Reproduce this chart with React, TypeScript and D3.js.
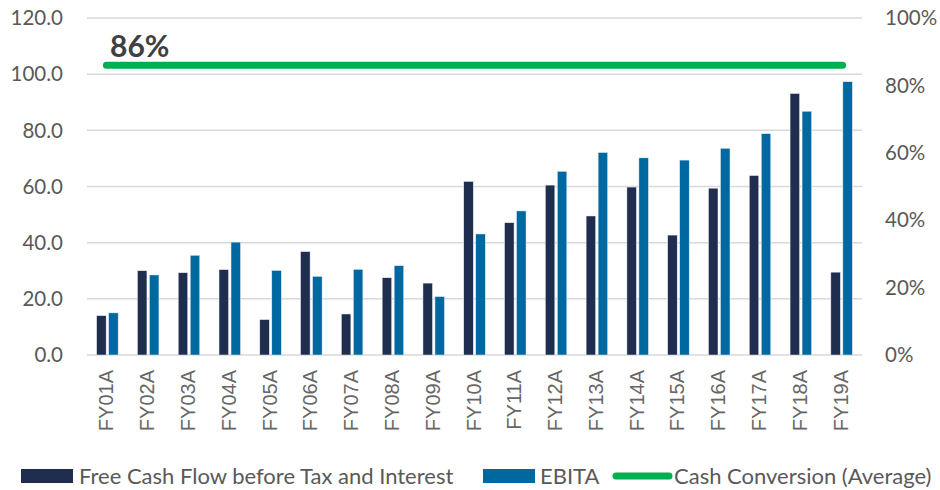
import React, { useRef, useEffect } from 'react';
import * as d3 from 'd3';

const categories = ['FY01A', 'FY02A', 'FY03A', 'FY04A', 'FY05A', 'FY06A', 'FY07A', 'FY08A', 'FY09A', 'FY10A',
  'FY11A', 'FY12A', 'FY13A', 'FY14A', 'FY15A', 'FY16A', 'FY17A', 'FY18A', 'FY19A'];
const freeCashFlow = [14.0, 30.0, 29.3, 30.4, 12.6, 36.8, 14.6, 27.5, 25.6, 61.8,
  47.1, 60.5, 49.5, 59.8, 42.7, 59.4, 63.9, 93.1, 29.5];
const ebita = [15.0, 28.5, 35.5, 40.2, 30.1, 28.0, 30.5, 31.8, 20.8, 43.1,
  51.3, 65.4, 72.1, 70.2, 69.4, 73.6, 78.8, 86.8, 97.3];
const cashConversion = 0.86;
const leftTicks = [0, 20, 40, 60, 80, 100, 120];
const rightTicks = [0, 0.2, 0.4, 0.6, 0.8, 1.0];
const seriesNames = ['Free Cash Flow before Tax and Interest', 'EBITA', 'Cash Conversion (Average)'];

const W = 940;
const H = 490;
const DARK = '#1f2d4e';
const BLUE = '#0068a0';
const GREEN = '#00b050';
const FONT = 'Lato, sans-serif';

const App: React.FC = () => {
  const svgRef = useRef<SVGSVGElement>(null);

  useEffect(() => {
    if (!svgRef.current) return;
    const svg = d3.select(svgRef.current);
    svg.selectAll('*').remove();

    const left = 87, right = 862, top = 18, bottom = 355;

    const x = d3.scaleBand<string>().domain(categories).range([left, right]);
    const y = d3.scaleLinear().domain([0, 120]).range([bottom, top]);
    const y2 = d3.scaleLinear().domain([0, 1]).range([bottom, top]);

    // grid lines
    svg.append('g')
      .selectAll('line')
      .data(leftTicks)
      .enter().append('line')
      .attr('x1', left)
      .attr('x2', right)
      .attr('y1', d => y(d))
      .attr('y2', d => y(d))
      .attr('stroke', '#d9d9d9')
      .attr('stroke-width', 1.5);

    // left axis labels
    svg.append('g')
      .selectAll('text')
      .data(leftTicks)
      .enter().append('text')
      .attr('x', 63)
      .attr('y', d => y(d))
      .attr('dy', '0.35em')
      .attr('text-anchor', 'end')
      .style('font-family', FONT)
      .style('font-size', '20.5px')
      .attr('fill', '#595959')
      .text(d => d.toFixed(1));

    // right axis labels
    svg.append('g')
      .selectAll('text')
      .data(rightTicks)
      .enter().append('text')
      .attr('x', 885)
      .attr('y', d => y2(d))
      .attr('dy', '0.35em')
      .attr('text-anchor', 'start')
      .style('font-family', FONT)
      .style('font-size', '20.5px')
      .attr('fill', '#595959')
      .text(d => d3.format('.0%')(d));

    // bars
    const bw = 9.5;
    const gap = 2.5;
    const bars = svg.append('g');
    bars.selectAll('.fcf')
      .data(freeCashFlow)
      .enter().append('rect')
      .attr('class', 'fcf')
      .attr('x', (d, i) => (x(categories[i]) as number) + x.bandwidth() / 2 - gap / 2 - bw)
      .attr('width', bw)
      .attr('y', d => y(d))
      .attr('height', d => bottom - y(d))
      .attr('fill', DARK)
      .attr('stroke', '#e8ecf2')
      .attr('stroke-width', 0.5);
    bars.selectAll('.ebita')
      .data(ebita)
      .enter().append('rect')
      .attr('class', 'ebita')
      .attr('x', (d, i) => (x(categories[i]) as number) + x.bandwidth() / 2 + gap / 2)
      .attr('width', bw)
      .attr('y', d => y(d))
      .attr('height', d => bottom - y(d))
      .attr('fill', BLUE)
      .attr('stroke', '#e8ecf2')
      .attr('stroke-width', 0.5);

    // average line
    const cx = (c: string) => (x(c) as number) + x.bandwidth() / 2;
    svg.append('line')
      .attr('x1', cx(categories[0]) - 1)
      .attr('x2', cx(categories[categories.length - 1]) + 1)
      .attr('y1', y2(cashConversion))
      .attr('y2', y2(cashConversion))
      .attr('stroke', GREEN)
      .attr('stroke-width', 7)
      .attr('stroke-linecap', 'round');

    svg.append('text')
      .attr('x', 110)
      .attr('y', 57)
      .style('font-family', FONT)
      .style('font-size', '30px')
      .style('font-weight', 'bold')
      .attr('fill', '#404040')
      .text(d3.format('.0%')(cashConversion));

    // x labels
    svg.append('g')
      .selectAll('text')
      .data(categories)
      .enter().append('text')
      .attr('transform', d => `translate(${cx(d) - 1},${370}) rotate(-90)`)
      .attr('text-anchor', 'end')
      .attr('dy', '0.35em')
      .style('font-family', 'Liberation Sans, Arial, sans-serif')
      .style('font-size', '20px')
      .attr('fill', '#666666')
      .text(d => d);

    // legend
    const lg = svg.append('g').style('font-family', FONT).style('font-size', '22px').attr('fill', '#595959');
    const ly = 476;
    lg.append('rect').attr('x', 21).attr('y', ly - 7).attr('width', 52).attr('height', 14).attr('fill', DARK);
    lg.append('text').attr('x', 79).attr('y', ly).attr('dy', '0.35em').text(seriesNames[0]);
    lg.append('rect').attr('x', 483).attr('y', ly - 7).attr('width', 52).attr('height', 14).attr('fill', BLUE);
    lg.append('text').attr('x', 540).attr('y', ly).attr('dy', '0.35em').text(seriesNames[1]);
    lg.append('line').attr('x1', 616).attr('x2', 669).attr('y1', ly).attr('y2', ly)
      .attr('stroke', GREEN).attr('stroke-width', 7).attr('stroke-linecap', 'round');
    lg.append('text').attr('x', 674).attr('y', ly).attr('dy', '0.35em').text(seriesNames[2]);
  }, []);

  return (
    <div style={{ position: 'absolute', left: 0, top: 0, width: W, height: H, background: '#fff' }}>
      <svg ref={svgRef} width={W} height={H} viewBox={`0 0 ${W} ${H}`} style={{ display: 'block' }}></svg>
    </div>
  );
};

export default App;
